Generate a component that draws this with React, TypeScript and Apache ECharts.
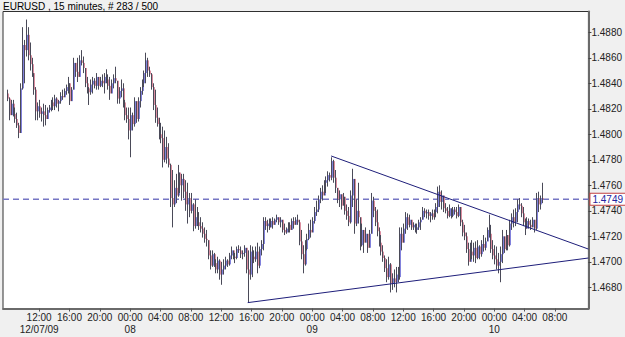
import React, { useEffect, useRef } from "react";
import * as echarts from "echarts";

const TITLE = "EURUSD , 15 minutes, # 283 / 500";
const FIRST_BAR_HOUR = 7.75; // 12/07/09 07:45, hours since 12/07 00:00
const BAR_HOURS = 0.25; // 15 minutes
const FIRST_OPEN = 1.4832;
const LAST_PRICE = 1.4749;

const highs = [
  1.4835, 1.4829, 1.4827, 1.4827, 1.4821, 1.4817, 1.4809, 1.4840, 1.4884, 1.4874,
  1.4890, 1.4884, 1.4872, 1.4860, 1.4846, 1.4837, 1.4825, 1.4827, 1.4821, 1.4824,
  1.4823, 1.4821, 1.4823, 1.4827, 1.4829, 1.4831, 1.4829, 1.4827, 1.4833, 1.4835,
  1.4836, 1.4839, 1.4845, 1.4836, 1.4837, 1.4860, 1.4856, 1.4860, 1.4862, 1.4866,
  1.4861, 1.4852, 1.4845, 1.4837, 1.4843, 1.4845, 1.4844, 1.4848, 1.4845, 1.4845,
  1.4847, 1.4848, 1.4851, 1.4847, 1.4845, 1.4843, 1.4847, 1.4853, 1.4842, 1.4837,
  1.4843, 1.4840, 1.4827, 1.4821, 1.4821, 1.4821, 1.4817, 1.4829, 1.4826, 1.4829,
  1.4837, 1.4843, 1.4850, 1.4864, 1.4860, 1.4853, 1.4848, 1.4840, 1.4835, 1.4821,
  1.4813, 1.4809, 1.4806, 1.4803, 1.4798, 1.4793, 1.4777, 1.4772, 1.4764, 1.4769,
  1.4776, 1.4770, 1.4769, 1.4769, 1.4764, 1.4762, 1.4754, 1.4754, 1.4746, 1.4749,
  1.4743, 1.4739, 1.4735, 1.4731, 1.4727, 1.4725, 1.4717, 1.4709, 1.4709, 1.4707,
  1.4702, 1.4704, 1.4702, 1.4700, 1.4702, 1.4704, 1.4702, 1.4707, 1.4712, 1.4709,
  1.4707, 1.4712, 1.4713, 1.4712, 1.4709, 1.4713, 1.4711, 1.4709, 1.4713, 1.4712,
  1.4709, 1.4712, 1.4715, 1.4712, 1.4717, 1.4735, 1.4735, 1.4733, 1.4734, 1.4734,
  1.4735, 1.4734, 1.4737, 1.4735, 1.4735, 1.4733, 1.4730, 1.4727, 1.4731, 1.4731,
  1.4734, 1.4735, 1.4735, 1.4737, 1.4733, 1.4725, 1.4713, 1.4717, 1.4722, 1.4730,
  1.4733, 1.4735, 1.4743, 1.4748, 1.4752, 1.4758, 1.4760, 1.4764, 1.4767, 1.4771,
  1.4770, 1.4782, 1.4780, 1.4772, 1.4758, 1.4756, 1.4753, 1.4754, 1.4751, 1.4745,
  1.4743, 1.4756, 1.4773, 1.4765, 1.4749, 1.4762, 1.4735, 1.4730, 1.4725, 1.4727,
  1.4722, 1.4725, 1.4754, 1.4751, 1.4743, 1.4741, 1.4727, 1.4721, 1.4713, 1.4705,
  1.4702, 1.4704, 1.4699, 1.4691, 1.4694, 1.4696, 1.4696, 1.4727, 1.4727, 1.4730,
  1.4739, 1.4738, 1.4737, 1.4733, 1.4731, 1.4730, 1.4730, 1.4733, 1.4735, 1.4743,
  1.4742, 1.4741, 1.4741, 1.4739, 1.4741, 1.4741, 1.4746, 1.4759, 1.4760, 1.4756,
  1.4752, 1.4746, 1.4743, 1.4745, 1.4742, 1.4743, 1.4743, 1.4743, 1.4745, 1.4743,
  1.4733, 1.4729, 1.4723, 1.4715, 1.4715, 1.4717, 1.4715, 1.4716, 1.4717, 1.4713,
  1.4717, 1.4721, 1.4719, 1.4727, 1.4737, 1.4729, 1.4717, 1.4713, 1.4712, 1.4707,
  1.4712, 1.4725, 1.4720, 1.4725, 1.4721, 1.4733, 1.4738, 1.4741, 1.4742, 1.4749,
  1.4750, 1.4746, 1.4743, 1.4734, 1.4735, 1.4734, 1.4733, 1.4735, 1.4733, 1.4754,
  1.4755, 1.4752, 1.4762,
];

const lows = [
  1.4826, 1.4811, 1.4817, 1.4814, 1.4809, 1.4805, 1.4797, 1.4802, 1.4835, 1.4840,
  1.4861, 1.4858, 1.4850, 1.4845, 1.4831, 1.4811, 1.4811, 1.4813, 1.4810, 1.4806,
  1.4807, 1.4813, 1.4817, 1.4818, 1.4819, 1.4819, 1.4821, 1.4818, 1.4824, 1.4827,
  1.4831, 1.4831, 1.4832, 1.4823, 1.4826, 1.4835, 1.4845, 1.4841, 1.4845, 1.4854,
  1.4848, 1.4837, 1.4832, 1.4823, 1.4831, 1.4832, 1.4836, 1.4835, 1.4835, 1.4837,
  1.4837, 1.4832, 1.4840, 1.4835, 1.4827, 1.4832, 1.4836, 1.4840, 1.4824, 1.4824,
  1.4829, 1.4821, 1.4811, 1.4809, 1.4796, 1.4782, 1.4803, 1.4806, 1.4809, 1.4810,
  1.4821, 1.4831, 1.4837, 1.4840, 1.4845, 1.4845, 1.4835, 1.4819, 1.4809, 1.4806,
  1.4796, 1.4793, 1.4774, 1.4778, 1.4777, 1.4774, 1.4743, 1.4727, 1.4743, 1.4746,
  1.4751, 1.4754, 1.4748, 1.4750, 1.4740, 1.4730, 1.4735, 1.4738, 1.4724, 1.4726,
  1.4728, 1.4725, 1.4723, 1.4719, 1.4715, 1.4712, 1.4702, 1.4694, 1.4696, 1.4696,
  1.4691, 1.4691, 1.4686, 1.4682, 1.4690, 1.4694, 1.4696, 1.4697, 1.4702, 1.4702,
  1.4699, 1.4702, 1.4707, 1.4703, 1.4702, 1.4704, 1.4691, 1.4668, 1.4686, 1.4688,
  1.4699, 1.4700, 1.4691, 1.4695, 1.4705, 1.4709, 1.4725, 1.4723, 1.4725, 1.4727,
  1.4726, 1.4729, 1.4731, 1.4729, 1.4727, 1.4723, 1.4721, 1.4722, 1.4723, 1.4723,
  1.4725, 1.4726, 1.4729, 1.4729, 1.4713, 1.4702, 1.4691, 1.4697, 1.4709, 1.4717,
  1.4719, 1.4723, 1.4730, 1.4736, 1.4739, 1.4746, 1.4748, 1.4752, 1.4754, 1.4759,
  1.4763, 1.4764, 1.4762, 1.4754, 1.4746, 1.4743, 1.4741, 1.4744, 1.4737, 1.4733,
  1.4728, 1.4730, 1.4743, 1.4722, 1.4728, 1.4730, 1.4709, 1.4712, 1.4707, 1.4715,
  1.4707, 1.4711, 1.4722, 1.4735, 1.4728, 1.4720, 1.4712, 1.4705, 1.4700, 1.4692,
  1.4684, 1.4686, 1.4676, 1.4678, 1.4680, 1.4676, 1.4684, 1.4686, 1.4709, 1.4715,
  1.4722, 1.4725, 1.4727, 1.4725, 1.4725, 1.4723, 1.4722, 1.4725, 1.4725, 1.4733,
  1.4735, 1.4734, 1.4733, 1.4731, 1.4733, 1.4733, 1.4735, 1.4738, 1.4743, 1.4741,
  1.4739, 1.4738, 1.4734, 1.4735, 1.4734, 1.4735, 1.4737, 1.4734, 1.4735, 1.4728,
  1.4720, 1.4717, 1.4707, 1.4697, 1.4700, 1.4702, 1.4700, 1.4699, 1.4702, 1.4702,
  1.4704, 1.4708, 1.4709, 1.4716, 1.4719, 1.4707, 1.4702, 1.4698, 1.4694, 1.4691,
  1.4684, 1.4699, 1.4707, 1.4709, 1.4709, 1.4712, 1.4725, 1.4727, 1.4728, 1.4731,
  1.4741, 1.4735, 1.4728, 1.4721, 1.4726, 1.4726, 1.4725, 1.4727, 1.4723, 1.4725,
  1.4739, 1.4741, 1.4746,
];

const closes = [
  1.4828, 1.4815, 1.4824, 1.4816, 1.4812, 1.4807, 1.4801, 1.4836, 1.4870, 1.4866,
  1.4878, 1.4862, 1.4855, 1.4848, 1.4835, 1.4818, 1.4822, 1.4816, 1.4818, 1.4815,
  1.4812, 1.4819, 1.4821, 1.4825, 1.4822, 1.4828, 1.4824, 1.4826, 1.4830, 1.4829,
  1.4834, 1.4837, 1.4840, 1.4826, 1.4835, 1.4856, 1.4849, 1.4845, 1.4858, 1.4856,
  1.4852, 1.4840, 1.4836, 1.4833, 1.4839, 1.4842, 1.4838, 1.4845, 1.4838, 1.4842,
  1.4840, 1.4845, 1.4843, 1.4838, 1.4832, 1.4840, 1.4844, 1.4842, 1.4828, 1.4834,
  1.4836, 1.4825, 1.4815, 1.4812, 1.4803, 1.4815, 1.4808, 1.4826, 1.4812, 1.4826,
  1.4834, 1.4840, 1.4848, 1.4858, 1.4850, 1.4847, 1.4837, 1.4823, 1.4813, 1.4808,
  1.4800, 1.4797, 1.4780, 1.4790, 1.4781, 1.4776, 1.4750, 1.4745, 1.4758, 1.4752,
  1.4770, 1.4760, 1.4765, 1.4755, 1.4745, 1.4750, 1.4740, 1.4745, 1.4728, 1.4735,
  1.4731, 1.4728, 1.4726, 1.4722, 1.4718, 1.4717, 1.4705, 1.4697, 1.4706, 1.4699,
  1.4694, 1.4701, 1.4690, 1.4694, 1.4697, 1.4701, 1.4698, 1.4705, 1.4709, 1.4704,
  1.4703, 1.4710, 1.4709, 1.4706, 1.4707, 1.4711, 1.4694, 1.4690, 1.4708, 1.4704,
  1.4702, 1.4708, 1.4697, 1.4710, 1.4714, 1.4732, 1.4728, 1.4730, 1.4727, 1.4732,
  1.4729, 1.4733, 1.4735, 1.4731, 1.4733, 1.4725, 1.4723, 1.4726, 1.4729, 1.4725,
  1.4732, 1.4729, 1.4733, 1.4731, 1.4716, 1.4706, 1.4698, 1.4710, 1.4718, 1.4725,
  1.4723, 1.4732, 1.4739, 1.4741, 1.4749, 1.4755, 1.4752, 1.4762, 1.4764, 1.4768,
  1.4766, 1.4779, 1.4766, 1.4758, 1.4749, 1.4753, 1.4744, 1.4751, 1.4740, 1.4736,
  1.4731, 1.4752, 1.4765, 1.4730, 1.4740, 1.4735, 1.4713, 1.4725, 1.4715, 1.4722,
  1.4711, 1.4722, 1.4748, 1.4740, 1.4731, 1.4724, 1.4715, 1.4708, 1.4703, 1.4695,
  1.4688, 1.4698, 1.4683, 1.4687, 1.4684, 1.4690, 1.4688, 1.4722, 1.4715, 1.4726,
  1.4735, 1.4729, 1.4733, 1.4727, 1.4729, 1.4725, 1.4727, 1.4731, 1.4733, 1.4740,
  1.4738, 1.4739, 1.4736, 1.4738, 1.4735, 1.4739, 1.4743, 1.4755, 1.4747, 1.4752,
  1.4742, 1.4740, 1.4736, 1.4742, 1.4736, 1.4741, 1.4739, 1.4736, 1.4743, 1.4731,
  1.4723, 1.4720, 1.4710, 1.4700, 1.4708, 1.4705, 1.4711, 1.4703, 1.4712, 1.4706,
  1.4714, 1.4711, 1.4716, 1.4725, 1.4722, 1.4710, 1.4705, 1.4702, 1.4697, 1.4700,
  1.4706, 1.4720, 1.4710, 1.4721, 1.4713, 1.4730, 1.4735, 1.4731, 1.4739, 1.4745,
  1.4744, 1.4738, 1.4731, 1.4726, 1.4732, 1.4729, 1.4727, 1.4733, 1.4726, 1.4750,
  1.4745, 1.4750, 1.4749,
];

// Trend lines: [hour, price] end points
const lowerTrend = [
  [39.5, 1.4668],
  [84.42, 1.4703],
];
const upperTrend = [
  [50.5, 1.4783],
  [84.42, 1.471],
];

const xTickHours = [12, 16, 20, 24, 28, 32, 36, 40, 44, 48, 52, 56, 60, 64, 68, 72, 76, 80];
const xTimeLabels = [
  "12:00", "16:00", "20:00", "00:00", "04:00", "08:00", "12:00", "16:00", "20:00",
  "00:00", "04:00", "08:00", "12:00", "16:00", "20:00", "00:00", "04:00", "08:00",
];
const xDateHours = [12, 24, 48, 72];
const xDateLabels = ["12/07/09", "08", "09", "10"];
const yTicks = [1.468, 1.47, 1.472, 1.474, 1.476, 1.478, 1.48, 1.482, 1.484, 1.486, 1.488];

const X_MIN = 7.235;
const X_MAX = 84.42;
const Y_MIN = 1.46634;
const Y_MAX = 1.48963;

const FONT = "'Liberation Sans Narrow', 'Arial Narrow', 'Liberation Sans', Arial, sans-serif";

export default function App() {
  const ref = useRef<HTMLDivElement>(null);

  useEffect(() => {
    if (!ref.current) return;
    const chart = echarts.init(ref.current, undefined, { renderer: "svg" });

    const bars = closes.map((c, i) => {
      const o = i === 0 ? FIRST_OPEN : closes[i - 1];
      return [FIRST_BAR_HOUR + i * BAR_HOURS, o, c, lows[i], highs[i]];
    });
    const lastLine = [
      [X_MIN, LAST_PRICE],
      [X_MAX, LAST_PRICE],
    ];

    const labelFor = (hours: number[], labels: string[]) => (v: number) => {
      const k = hours.indexOf(Math.round(v));
      return k >= 0 ? labels[k] : "";
    };

    const option: any = {
      animation: false,
      backgroundColor: "#f0f0f0",
      textStyle: { fontFamily: FONT },
      title: {
        text: TITLE,
        left: 1,
        top: 0,
        padding: [1, 2],
        textStyle: { fontSize: 10, fontWeight: "normal", color: "#000", fontFamily: FONT },
      },
      grid: {
        left: 3,
        right: 34,
        top: 11.5,
        bottom: 28.5,
        show: true,
        backgroundColor: "#ffffff",
        borderColor: "#303030",
        borderWidth: 1,
      },
      xAxis: [
        {
          type: "value",
          min: X_MIN,
          max: X_MAX,
          splitLine: { show: false },
          axisLine: { show: true, onZero: false, lineStyle: { color: "#6a6a6a", width: 2 } },
          axisTick: {
            show: true,
            customValues: xTickHours,
            length: 3,
            lineStyle: { color: "#555" },
          },
          axisLabel: {
            customValues: xTickHours,
            showMinLabel: true,
            showMaxLabel: true,
            formatter: labelFor(xTickHours, xTimeLabels),
            fontSize: 10,
            margin: 4,
            color: "#222",
            fontFamily: FONT,
          },
        },
        {
          type: "value",
          position: "bottom",
          min: X_MIN,
          max: X_MAX,
          splitLine: { show: false },
          axisLine: { show: false },
          axisTick: { show: false },
          axisLabel: {
            customValues: xDateHours,
            showMinLabel: true,
            showMaxLabel: true,
            formatter: labelFor(xDateHours, xDateLabels),
            fontSize: 10,
            margin: 16,
            color: "#222",
            fontFamily: FONT,
          },
        },
      ],
      yAxis: {
        type: "value",
        position: "right",
        min: Y_MIN,
        max: Y_MAX,
        splitLine: { show: false },
        axisLine: { show: true, onZero: false, lineStyle: { color: "#6a6a6a", width: 2 } },
        axisTick: {
          show: true,
          customValues: yTicks,
          length: 3,
          lineStyle: { color: "#444" },
        },
        axisLabel: {
          customValues: yTicks,
          showMinLabel: true,
          showMaxLabel: true,
          formatter: (v: number) => v.toFixed(4),
          fontSize: 10,
          margin: 3,
          color: "#222",
          fontFamily: FONT,
        },
      },
      series: [
        {
          type: "line",
          name: "last",
          data: lastLine,
          showSymbol: false,
          silent: true,
          clip: false,
          lineStyle: { color: "#7676c4", type: [6, 4], width: 1.5 },
          endLabel: {
            show: true,
            distance: 2,
            formatter: () => LAST_PRICE.toFixed(4),
            color: "#2424a0",
            backgroundColor: "#ffffff",
            borderColor: "#c04040",
            borderWidth: 1,
            padding: [1, 2, 0, 2],
            fontSize: 10,
            fontFamily: FONT,
          },
          z: 1,
        },
        {
          type: "custom",
          name: "EURUSD",
          clip: true,
          silent: true,
          data: bars,
          encode: { x: 0, y: [1, 2, 3, 4] },
          renderItem: (params: any, api: any) => {
            const t = api.value(0);
            const o = api.value(1);
            const c = api.value(2);
            const l = api.value(3);
            const h = api.value(4);
            const top = api.coord([t, Math.max(h, o, c)]);
            const bot = api.coord([t, Math.min(l, o, c)]);
            const po = api.coord([t, o]);
            const pc = api.coord([t, c]);
            const x = Math.round(top[0]) + 0.5;
            const up = c >= o;
            let y1 = po[1];
            let y2 = pc[1];
            if (Math.abs(y1 - y2) < 1) y2 = y1 + (up ? -1 : 1);
            return {
              type: "group",
              children: [
                {
                  type: "line",
                  shape: { x1: x, y1: top[1], x2: x, y2: bot[1] },
                  style: { stroke: "#4a4a58", lineWidth: 1 },
                },
                {
                  type: "line",
                  shape: { x1: x + 1, y1, x2: x + 1, y2 },
                  style: { stroke: up ? "#8282dc" : "#dc8ea0", lineWidth: 1 },
                },
              ],
            };
          },
          z: 2,
        },
        {
          type: "line",
          name: "lower",
          data: lowerTrend,
          showSymbol: false,
          silent: true,
          clip: true,
          lineStyle: { color: "#1e1e7a", width: 1 },
          z: 3,
        },
        {
          type: "line",
          name: "upper",
          data: upperTrend,
          showSymbol: false,
          silent: true,
          clip: true,
          lineStyle: { color: "#1e1e7a", width: 1 },
          z: 3,
        },
      ],
    };

    chart.setOption(option);
    return () => chart.dispose();
  }, []);

  return (
    <div
      ref={ref}
      style={{ position: "fixed", left: 0, top: 0, width: 625, height: 337 }}
    />
  );
}
